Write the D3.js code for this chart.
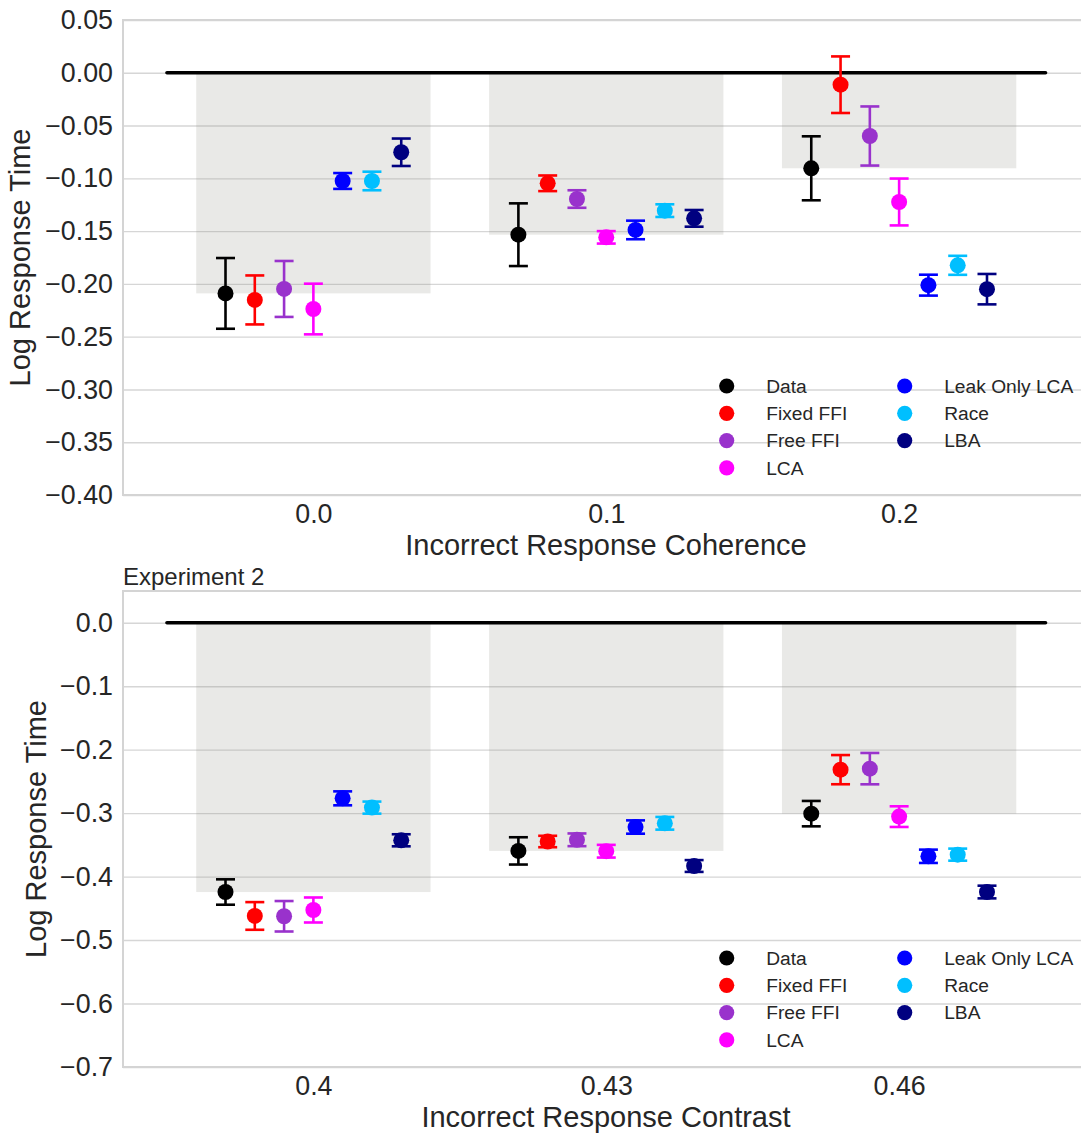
<!DOCTYPE html>
<html>
<head>
<meta charset="utf-8">
<script src="https://cdn.jsdelivr.net/npm/d3@7"></script>
<style>
  html, body { margin: 0; padding: 0; background: #ffffff; }
  svg { display: block; }
  text { font-family: "Liberation Sans", Arial, Helvetica, sans-serif; fill: #262626; }
</style>
</head>
<body>
<svg id="chart" width="1081" height="1134"></svg>
<script>
// ---- data -------------------------------------------------------------
const models = ["Data", "Fixed FFI", "Free FFI", "LCA", "Leak Only LCA", "Race", "LBA"];
const modelColors = ["#000000", "#ff0000", "#9932cc", "#ff00ff", "#0000ff", "#00bfff", "#000080"];

// Experiment 1: incorrect response coherence levels
const exp1Categories = ["0.0", "0.1", "0.2"];
const exp1Means = [
  [-0.2090, -0.1534, -0.0905],   // Data
  [-0.2152, -0.1047, -0.0113],   // Fixed FFI
  [-0.2048, -0.1196, -0.0599],   // Free FFI
  [-0.2238, -0.1559, -0.1224],   // LCA
  [-0.1025, -0.1489, -0.2012],   // Leak Only LCA
  [-0.1025, -0.1306, -0.1824],   // Race
  [-0.0753, -0.1379, -0.2050]    // LBA
];
const exp1Errors = [
  [0.0335, 0.0297, 0.0303],
  [0.0232, 0.0074, 0.0268],
  [0.0265, 0.0083, 0.0280],
  [0.0240, 0.0059, 0.0222],
  [0.0075, 0.0088, 0.0099],
  [0.0088, 0.0060, 0.0090],
  [0.0130, 0.0079, 0.0144]
];
const exp1Ticks = [0.05, 0.00, -0.05, -0.10, -0.15, -0.20, -0.25, -0.30, -0.35, -0.40];

// Experiment 2: incorrect response contrast levels
const exp2Categories = ["0.4", "0.43", "0.46"];
const exp2Means = [
  [-0.4243, -0.3595, -0.3008],   // Data
  [-0.4620, -0.3447, -0.2315],   // Fixed FFI
  [-0.4625, -0.3420, -0.2299],   // Free FFI
  [-0.4526, -0.3600, -0.3055],   // LCA
  [-0.2767, -0.3219, -0.3680],   // Leak Only LCA
  [-0.2913, -0.3160, -0.3654],   // Race
  [-0.3428, -0.3833, -0.4243]    // LBA
];
const exp2Errors = [
  [0.0200, 0.0215, 0.0200],
  [0.0218, 0.0090, 0.0230],
  [0.0240, 0.0100, 0.0247],
  [0.0197, 0.0100, 0.0163],
  [0.0110, 0.0105, 0.0105],
  [0.0095, 0.0100, 0.0095],
  [0.0095, 0.0093, 0.0100]
];
const exp2Ticks = [0.0, -0.1, -0.2, -0.3, -0.4, -0.5, -0.6, -0.7];

// ---- drawing ----------------------------------------------------------
const svg = d3.select("#chart");
const left = 123, right = 1089.5;
const groupStep = 0.1, modelStep = 0.01, bandHalf = 0.04;
const tickFont = 26.8, labelFont = 29;

function drawPanel(cfg) {
  const x = d3.scaleLinear().domain([-0.065, 0.265]).range([left, right]);
  const y = d3.scaleLinear().domain(cfg.yDomain).range([cfg.bottom, cfg.top]);
  const g = svg.append("g");

  // grid
  g.append("g")
    .attr("transform", `translate(${left},0)`)
    .call(d3.axisLeft(y).tickValues(cfg.ticks).tickSize(-(right - left)).tickFormat(""))
    .call(a => a.select(".domain").remove())
    .call(a => a.selectAll("line").attr("stroke", "#d6d6d6").attr("stroke-width", 1.4));

  // frame (left / top / bottom spines)
  g.append("rect")
    .attr("x", left).attr("y", cfg.top)
    .attr("width", right - left).attr("height", cfg.bottom - cfg.top)
    .attr("fill", "none").attr("stroke", "#d4d4d4").attr("stroke-width", 2);

  // shaded band from zero to the observed mean of each level
  const dataMeans = cfg.means[0];
  g.append("g").selectAll("rect")
    .data(dataMeans)
    .join("rect")
    .attr("x", (d, i) => x(i * groupStep - bandHalf))
    .attr("width", (d, i) => x(i * groupStep + bandHalf) - x(i * groupStep - bandHalf))
    .attr("y", y(0))
    .attr("height", d => y(d) - y(0))
    .attr("fill", "#8a8a80")
    .attr("fill-opacity", 0.19);

  // zero reference line
  g.append("line")
    .attr("x1", x(-0.05)).attr("x2", x(0.25))
    .attr("y1", y(0)).attr("y2", y(0))
    .attr("stroke", "#000").attr("stroke-width", 3.5).attr("stroke-linecap", "round");

  // error bars and markers
  const points = [];
  cfg.means.forEach((row, m) => row.forEach((v, c) => points.push({
    m, c, v, e: cfg.errors[m][c], xv: c * groupStep + (m - 3) * modelStep
  })));
  const eb = g.append("g").selectAll("g").data(points).join("g")
    .attr("stroke", d => modelColors[d.m]).attr("stroke-width", 2.6);
  eb.append("line")
    .attr("x1", d => x(d.xv)).attr("x2", d => x(d.xv))
    .attr("y1", d => y(d.v + d.e)).attr("y2", d => y(d.v - d.e));
  [1, -1].forEach(s => eb.append("line")
    .attr("x1", d => x(d.xv) - 9.5).attr("x2", d => x(d.xv) + 9.5)
    .attr("y1", d => y(d.v + s * d.e)).attr("y2", d => y(d.v + s * d.e)));
  g.append("g").selectAll("circle").data(points).join("circle")
    .attr("cx", d => x(d.xv)).attr("cy", d => y(d.v)).attr("r", 8)
    .attr("fill", d => modelColors[d.m]);

  // y tick labels
  g.append("g")
    .attr("transform", `translate(${left},0)`)
    .call(d3.axisLeft(y).tickValues(cfg.ticks).tickSize(0).tickPadding(10).tickFormat(d3.format(cfg.fmt)))
    .call(a => a.select(".domain").remove())
    .call(a => a.selectAll("text").attr("font-size", tickFont).attr("fill", "#262626")
      .style("font-family", '"Liberation Sans", Arial, sans-serif'));

  // x tick labels
  g.append("g")
    .attr("transform", `translate(0,${cfg.bottom})`)
    .call(d3.axisBottom(x).tickValues(cfg.categories.map((c, i) => i * groupStep))
      .tickSize(0).tickPadding(9).tickFormat((d, i) => cfg.categories[i]))
    .call(a => a.select(".domain").remove())
    .call(a => a.selectAll("text").attr("font-size", tickFont).attr("fill", "#262626")
      .style("font-family", '"Liberation Sans", Arial, sans-serif'));

  // axis titles
  g.append("text")
    .attr("x", 606).attr("y", cfg.bottom + 60)
    .attr("text-anchor", "middle").attr("font-size", labelFont)
    .text(cfg.xLabel);
  g.append("text")
    .attr("transform", `translate(${cfg.yLabelX},${(cfg.top + cfg.bottom) / 2}) rotate(-90)`)
    .attr("text-anchor", "middle").attr("font-size", labelFont)
    .text("Log Response Time");

  if (cfg.title) {
    g.append("text").attr("x", left).attr("y", cfg.top - 6)
      .attr("font-size", 24).text(cfg.title);
  }

  // legend, two columns
  const legendCols = [726.7, 904.7];
  const rowH = 27.3;
  const legTop = cfg.bottom - 109;
  const items = g.append("g").selectAll("g").data(models).join("g")
    .attr("transform", (d, i) => {
      const col = i < 4 ? 0 : 1, row = i < 4 ? i : i - 4;
      return `translate(${legendCols[col]},${legTop + row * rowH})`;
    });
  items.append("circle").attr("r", 7.6).attr("fill", (d, i) => modelColors[i]);
  items.append("text").attr("x", 39.5).attr("y", 6.8).attr("font-size", 19.2).text(d => d);
}

drawPanel({
  top: 20, bottom: 495, yDomain: [-0.40, 0.05], ticks: exp1Ticks, fmt: ".2f",
  means: exp1Means, errors: exp1Errors, categories: exp1Categories,
  xLabel: "Incorrect Response Coherence", yLabelX: 30
});
drawPanel({
  top: 591, bottom: 1067, yDomain: [-0.70, 0.05], ticks: exp2Ticks, fmt: ".1f",
  means: exp2Means, errors: exp2Errors, categories: exp2Categories,
  xLabel: "Incorrect Response Contrast", yLabelX: 46, title: "Experiment 2"
});
</script>
</body>
</html>
